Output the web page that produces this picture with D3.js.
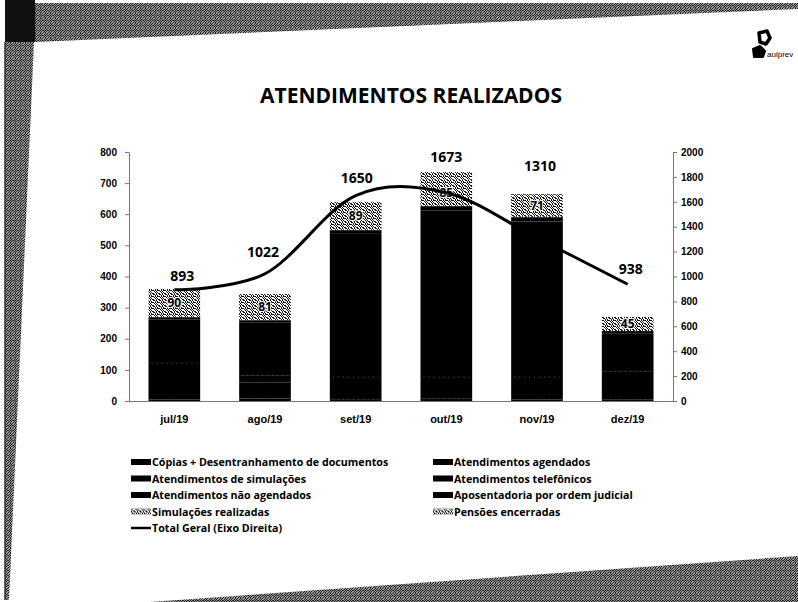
<!DOCTYPE html>
<meta charset="utf-8">
<style>
body { margin: 0; background: #fff; }
svg { display: block; font-family: "Open Sans", "DejaVu Sans", sans-serif; }
.axis path, .axis line { stroke: #777; }
.axis text { font-size: 10px; font-weight: bold; fill: #000; }
.xaxis text { font-size: 11px; }
.legend text { font-size: 10.7px; font-weight: bold; fill: #000; }
</style>
<svg width="798" height="602"></svg>

<script src="https://cdnjs.cloudflare.com/ajax/libs/d3/7.8.5/d3.min.js"></script>
<script>

var months = ["jul/19", "ago/19", "set/19", "out/19", "nov/19", "dez/19"];

// bar series, bottom to top
var seriesNames = [
  "Cópias + Desentranhamento de documentos",
  "Atendimentos agendados",
  "Atendimentos de simulações",
  "Atendimentos telefônicos",
  "Atendimentos não agendados",
  "Aposentadoria por ordem judicial",
  "Simulações realizadas",
  "Pensões encerradas"
];
var copias      = [5, 8, 6, 7, 5, 4];
var agendados   = [117, 52, 71, 70, 72, 92];
var simulacoes  = [0, 23, 0, 0, 0, 0];
var telefonicos = [140, 170, 460, 535, 500, 120];
var naoAgend    = [6, 5, 10, 12, 12, 6];
var aposent     = [2, 2, 3, 3, 3, 3];
var simRealiz   = [90, 81, 89, 85, 71, 45];
var pensoes     = [0, 3, 1, 24, 2, 0];

// right axis line
var totalGeral = [893, 1022, 1650, 1673, 1310, 938];

var leftTicks = [0, 100, 200, 300, 400, 500, 600, 700, 800];
var rightTicks = [0, 200, 400, 600, 800, 1000, 1200, 1400, 1600, 1800, 2000];

var seriesValues = [copias, agendados, simulacoes, telefonicos, naoAgend, aposent, simRealiz, pensoes];
var table = months.map(function(m, i) {
  var row = {month: m};
  seriesNames.forEach(function(s, j) { row[s] = seriesValues[j][i]; });
  return row;
});

var svg = d3.select("svg"),
    plot = {left: 129, right: 673, top: 152, bottom: 401};

var defs = svg.append("defs");

// stipple for the grey series
var stip = defs.append("pattern").attr("id", "stipple")
    .attr("width", 6).attr("height", 6).attr("patternUnits", "userSpaceOnUse");
stip.append("rect").attr("width", 6).attr("height", 6).attr("fill", "#fff");
[[0,0],[3,0],[4,0],[1,1],[5,1],[2,2],[3,2],[0,3],[4,3],[1,4],[5,4],[2,5],[3,5],[0,5],[5,2],[1,2]].forEach(function(p) {
  stip.append("rect").attr("x", p[0]).attr("y", p[1]).attr("width", 1).attr("height", 1).attr("fill", "#111");
});

// darker noise for the slide border
var noise = defs.append("pattern").attr("id", "noise")
    .attr("width", 5).attr("height", 5).attr("patternUnits", "userSpaceOnUse");
noise.append("rect").attr("width", 5).attr("height", 5).attr("fill", "#999");
[[0,0],[2,0],[4,1],[1,1],[3,2],[0,3],[2,3],[4,4],[1,4],[3,0],[0,2]].forEach(function(p) {
  noise.append("rect").attr("x", p[0]).attr("y", p[1]).attr("width", 1).attr("height", 1).attr("fill", "#222");
});

// slide frame (scanned border)
var frame = svg.append("g");
frame.append("path").attr("d", "M35,3L798,3L798,9L35,42Z").attr("fill", "url(#noise)");
frame.append("path").attr("d", "M5,42L34,42L9,600L5,600Z").attr("fill", "url(#noise)");
frame.append("rect").attr("x", 5).attr("y", 0).attr("width", 30).attr("height", 42).attr("fill", "#111");
frame.append("line").attr("x1", 5).attr("y1", 42).attr("x2", 5).attr("y2", 600)
    .attr("stroke", "#333").attr("stroke-width", 1.5);
frame.append("path").attr("d", "M150,602L798,556L798,602Z").attr("fill", "url(#noise)");

// logo
var logo = svg.append("g").attr("transform", "translate(751,30)");
logo.append("path").attr("d", "M8,3 L16,1 L19,8 L15,14 L9,12 Z")
    .attr("fill", "none").attr("stroke", "#000").attr("stroke-width", 3.5).attr("stroke-linejoin", "round");
logo.append("path").attr("d", "M2,19 L9,16 L14,21 L12,27 L3,27 Z")
    .attr("fill", "#000").attr("stroke", "#000").attr("stroke-width", 2).attr("stroke-linejoin", "round");
logo.append("text").attr("x", 16).attr("y", 27).attr("font-size", 8)
    .attr("font-family", "Liberation Sans Narrow, sans-serif").text("aulprev");

// title
svg.append("text")
    .attr("x", 411).attr("y", 103)
    .attr("text-anchor", "middle")
    .style("font-size", "21px").style("font-weight", "bold")
    .text("ATENDIMENTOS REALIZADOS");

var x = d3.scaleBand().domain(months).range([plot.left, plot.right])
    .paddingInner(0.43).paddingOuter(0.215);
var yL = d3.scaleLinear().domain([0, 800]).range([plot.bottom, plot.top]);
var yR = d3.scaleLinear().domain([0, 2000]).range([plot.bottom, plot.top]);

var stacked = d3.stack().keys(seriesNames)(table);
var greySeries = ["Simulações realizadas", "Pensões encerradas"];

var layers = svg.append("g").selectAll("g")
  .data(stacked)
  .enter().append("g")
    .attr("fill", function(d) { return greySeries.indexOf(d.key) >= 0 ? "url(#stipple)" : "#000"; });

layers.selectAll("rect")
  .data(function(d) { return d; })
  .enter().append("rect")
    .attr("x", function(d) { return x(d.data.month); })
    .attr("y", function(d) { return yL(d[1]); })
    .attr("width", x.bandwidth())
    .attr("height", function(d) { return yL(d[0]) - yL(d[1]); });

// faint separators between the lower black segments
layers.filter(function(d, i) { return i > 0 && i < 4; }).selectAll("line")
  .data(function(d) { return d.filter(function(v) { return v[1] > v[0]; }); })
  .enter().append("line")
    .attr("x1", function(d) { return x(d.data.month) + 3; })
    .attr("x2", function(d) { return x(d.data.month) + x.bandwidth() - 3; })
    .attr("y1", function(d) { return yL(d[0]); })
    .attr("y2", function(d) { return yL(d[0]); })
    .attr("stroke", "#555").attr("stroke-width", 1).attr("stroke-dasharray", "1,4");

// labels on Simulações realizadas
var simLayer = stacked[6];
svg.append("g").selectAll("text")
  .data(simLayer)
  .enter().append("text")
    .attr("x", function(d) { return x(d.data.month) + x.bandwidth() / 2; })
    .attr("y", function(d) { return yL((d[0] + d[1]) / 2) + 4; })
    .attr("text-anchor", "middle")
    .style("font-size", "12px").style("font-weight", "bold")
    .style("paint-order", "stroke").style("stroke", "#fff").style("stroke-width", "2px")
    .text(function(d) { return d[1] - d[0]; });

// axes
svg.append("g").attr("class", "axis")
    .attr("transform", "translate(" + plot.left + ",0)")
    .call(d3.axisLeft(yL).tickValues(leftTicks).tickSize(4).tickSizeOuter(0).tickPadding(8));
svg.append("g").attr("class", "axis")
    .attr("transform", "translate(" + plot.right + ",0)")
    .call(d3.axisRight(yR).tickValues(rightTicks).tickFormat(d3.format("d"))
      .tickSize(4).tickSizeOuter(0).tickPadding(4));
svg.append("g").attr("class", "axis xaxis")
    .attr("transform", "translate(0," + plot.bottom + ")")
    .call(d3.axisBottom(x).tickSize(0).tickPadding(14));

// total line
var line = d3.line()
    .curve(d3.curveCardinal.tension(0))
    .x(function(d, i) { return x(months[i]) + x.bandwidth() / 2; })
    .y(function(d) { return yR(d); });

svg.append("path")
    .datum(totalGeral)
    .attr("fill", "none")
    .attr("stroke", "#000")
    .attr("stroke-width", 3)
    .attr("d", line);

var labelDx = [8, -2, 1, 0, 3, 3],
    labelDy = [-9, -17, -13, -31, -67, -10];
svg.append("g").selectAll("text")
  .data(totalGeral)
  .enter().append("text")
    .attr("x", function(d, i) { return x(months[i]) + x.bandwidth() / 2 + labelDx[i]; })
    .attr("y", function(d, i) { return yR(d) + labelDy[i]; })
    .attr("text-anchor", "middle")
    .style("font-size", "14px").style("font-weight", "bold")
    .text(function(d) { return d; });

// legend
var legendItems = seriesNames.concat(["Total Geral (Eixo Direita)"]);
var legend = svg.append("g").attr("class", "legend")
  .selectAll("g")
  .data(legendItems)
  .enter().append("g")
    .attr("transform", function(d, i) {
      var col = i === 8 ? 0 : i % 2, row = i === 8 ? 4 : Math.floor(i / 2);
      return "translate(" + (col ? 433 : 131) + "," + (462 + row * 16.5) + ")";
    });

legend.filter(function(d, i) { return i < 8; }).append("rect")
    .attr("x", 0).attr("y", -3).attr("width", 20).attr("height", 6)
    .attr("fill", function(d) { return greySeries.indexOf(d) >= 0 ? "url(#stipple)" : "#000"; });
legend.filter(function(d, i) { return i === 8; }).append("line")
    .attr("x1", 0).attr("x2", 20).attr("y1", 0).attr("y2", 0)
    .attr("stroke", "#000").attr("stroke-width", 2.5);
legend.append("text")
    .attr("x", 21).attr("y", 4)
    .text(function(d) { return d; });

</script>
